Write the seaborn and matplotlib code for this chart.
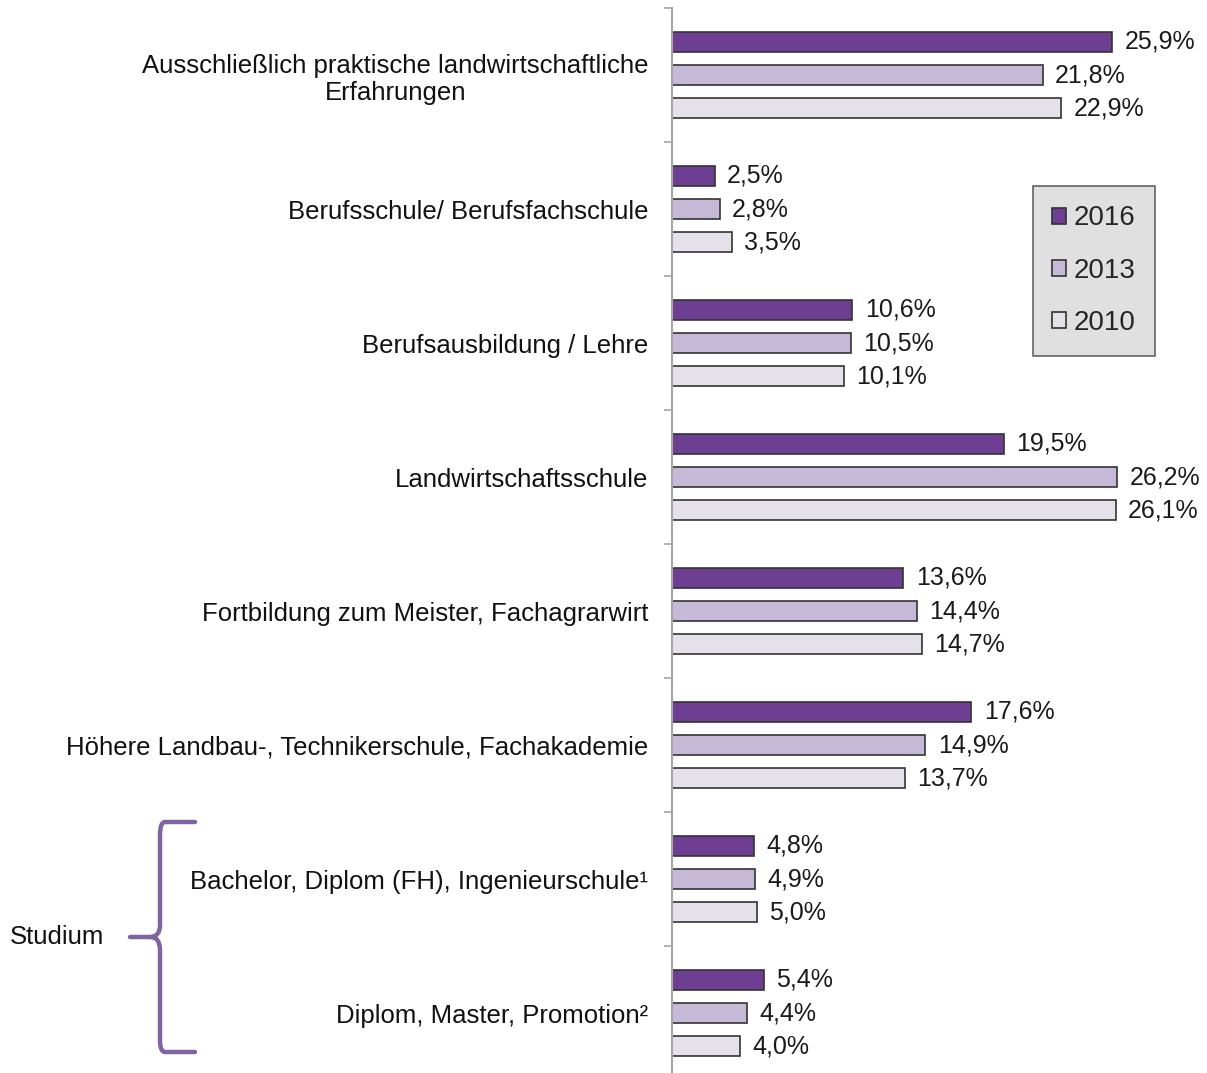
import numpy as np
import pandas as pd
import matplotlib
matplotlib.use("Agg")
import matplotlib.pyplot as plt
import seaborn as sns
from matplotlib.path import Path
from matplotlib.patches import PathPatch

categories = [
    "Ausschließlich praktische landwirtschaftliche\nErfahrungen",
    "Berufsschule/ Berufsfachschule",
    "Berufsausbildung / Lehre",
    "Landwirtschaftsschule",
    "Fortbildung zum Meister, Fachagrarwirt",
    "Höhere Landbau-, Technikerschule, Fachakademie",
    "Bachelor, Diplom (FH), Ingenieurschule¹",
    "Diplom, Master, Promotion²",
]
years = ["2016", "2013", "2010"]
v2016 = [25.9, 2.5, 10.6, 19.5, 13.6, 17.6, 4.8, 5.4]
v2013 = [21.8, 2.8, 10.5, 26.2, 14.4, 14.9, 4.9, 4.4]
v2010 = [22.9, 3.5, 10.1, 26.1, 14.7, 13.7, 5.0, 4.0]
colors = ["#7030A0", "#C5B4DC", "#E5DFEC"]

df = pd.DataFrame({
    "Kategorie": categories * 3,
    "Jahr": [y for y in years for _ in categories],
    "Anteil": v2016 + v2013 + v2010,
})

sns.set_style("white")
plt.rcParams["font.family"] = ["Liberation Sans", "DejaVu Sans"]

W, H = 1207, 1073
fig = plt.figure(figsize=(W / 100, H / 100), dpi=100)
ax = fig.add_axes([672 / W, 0, 1 - 672 / W, 1 - 8 / H])

sns.barplot(data=df, y="Kategorie", x="Anteil", hue="Jahr", hue_order=years,
            order=categories, palette=colors, orient="h", width=0.74, gap=0.39,
            edgecolor="#333333", linewidth=1.2, ax=ax)

for cont in ax.containers:
    ax.bar_label(cont, labels=[f"{v:.1f}%".replace(".", ",") for v in cont.datavalues],
                 padding=9, fontsize=18, color="#1a1a1a")

ax.set_xlim(0, (W - 672) / 17)
ax.set_ylim(-0.5 + (H - 8) / 134, -0.5)
ax.set_xlabel("")
ax.set_ylabel("")
ax.set_xticks([])
for s in ["top", "right", "bottom"]:
    ax.spines[s].set_visible(False)
ax.spines["left"].set_color("#a6a6a6")
ax.spines["left"].set_linewidth(1.5)

ax.set_yticks(range(len(categories)))
ax.set_yticklabels(categories, fontsize=18.5, multialignment="center", color="#111111")
ax.tick_params(axis="y", which="major", length=0, pad=17)
ax.set_yticks(np.arange(-0.5, len(categories) - 0.5, 1), minor=True)
ax.tick_params(axis="y", which="minor", length=6, color="#a6a6a6", width=1.2, left=True)

leg = ax.legend(title=None, loc="upper left", bbox_to_anchor=((1033 - 672) / (W - 672), 1 - (186 - 8) / (H - 8)),
                fontsize=20, frameon=True, fancybox=False, facecolor="#D9D9D9",
                edgecolor="#404040", handlelength=0.5, handleheight=0.5,
                handletextpad=0.25, labelspacing=0.95, borderpad=0.7, borderaxespad=0)
leg.get_frame().set_linewidth(1.2)
for h in leg.legend_handles:
    h.set_edgecolor("#333333")

# Studium bracket
def fx(px):
    return px / W

def fy(py):
    return 1 - py / H

verts = [
    (fx(195), fy(822)), (fx(165), fy(822)), (fx(160), fy(822)), (fx(160), fy(835)),
    (fx(160), fy(925)), (fx(160), fy(937)), (fx(150), fy(937)), (fx(130), fy(937)),
    (fx(150), fy(937)), (fx(160), fy(937)), (fx(160), fy(950)),
    (fx(160), fy(1040)), (fx(160), fy(1052)), (fx(165), fy(1052)), (fx(195), fy(1052)),
]
codes = [Path.MOVETO, Path.LINETO, Path.CURVE3, Path.CURVE3,
         Path.LINETO, Path.CURVE3, Path.CURVE3, Path.LINETO,
         Path.MOVETO, Path.CURVE3, Path.CURVE3,
         Path.LINETO, Path.CURVE3, Path.CURVE3, Path.LINETO]
fig.add_artist(PathPatch(Path(verts, codes), transform=fig.transFigure, fill=False,
                         edgecolor="#8064A2", linewidth=3.2, capstyle="round"))
fig.text(fx(10), fy(937), "Studium", fontsize=18.5, va="center", ha="left", color="#111111")

fig.savefig("out.png", dpi=100)
